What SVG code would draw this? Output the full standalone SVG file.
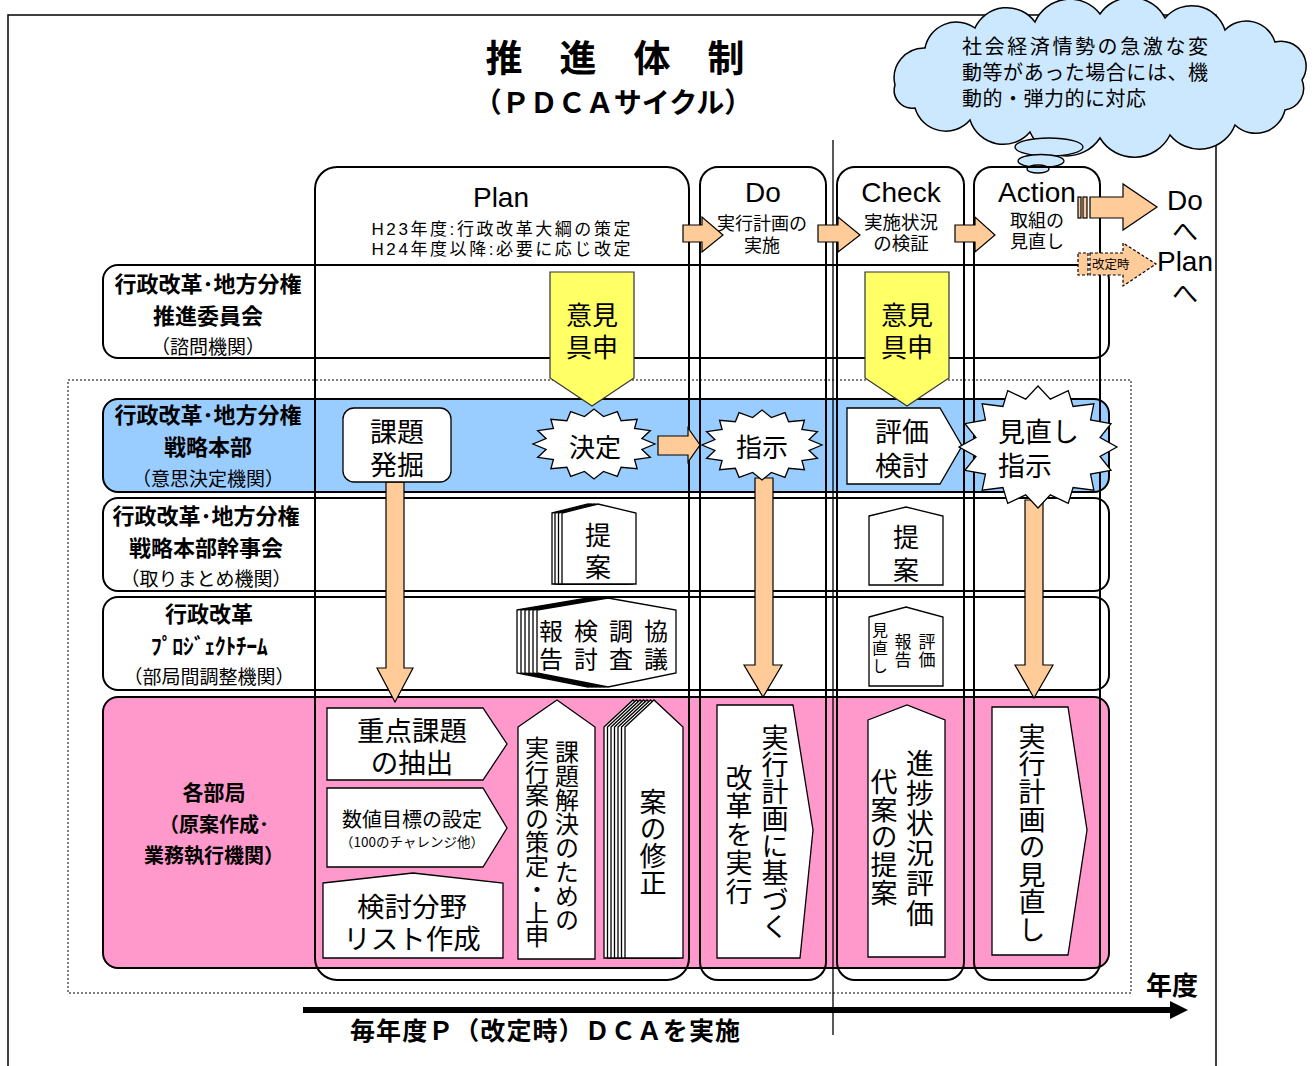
<svg xmlns="http://www.w3.org/2000/svg" xmlns:xlink="http://www.w3.org/1999/xlink" width="1314" height="1066" viewBox="0 0 1314 1066">
<style>
.frame{fill:none;stroke:#000;stroke-width:1.5}
.row{stroke:#000;stroke-width:2}
.col{fill:none;stroke:#000;stroke-width:2}
.ws{fill:#fff;stroke:#000;stroke-width:1.3}
.or{fill:#FFCC99;stroke:#000;stroke-width:1.2}
.ye{fill:#FFFF66;stroke:#333;stroke-width:1.2}
.jp{font-family:'Noto Sans CJK JP',sans-serif;fill:#000}
.lat{font-family:'Liberation Sans','Noto Sans CJK JP',sans-serif;fill:#000}
.b{font-weight:bold}
.c{text-anchor:middle}
.vt{writing-mode:vertical-rl}
</style>
<defs>
<polygon id="seal" vector-effect="non-scaling-stroke" fill="#fff" stroke="#000" stroke-width="1.3" points="100,0 78.5,15.6 92.4,38.3 66.5,44.4 70.7,70.7 44.4,66.5 38.3,92.4 15.6,78.5 0,100 -15.6,78.5 -38.3,92.4 -44.4,66.5 -70.7,70.7 -66.5,44.4 -92.4,38.3 -78.5,15.6 -100,0 -78.5,-15.6 -92.4,-38.3 -66.5,-44.4 -70.7,-70.7 -44.4,-66.5 -38.3,-92.4 -15.6,-78.5 0,-100 15.6,-78.5 38.3,-92.4 44.4,-66.5 70.7,-70.7 66.5,-44.4 92.4,-38.3 78.5,-15.6"/>
</defs>

<g id="background">
<rect class="frame" x="8" y="15" width="1208" height="1100"/>
<rect x="68" y="380" width="1063" height="613" fill="none" stroke="#000" stroke-width="1" stroke-dasharray="2,2"/>
</g>

<g id="title">
<text class="jp b c" x="615" y="72" font-size="37">推　進　体　制</text>
<text class="jp b c" x="613" y="113" font-size="28">（ＰＤＣＡサイクル）</text>
</g>

<g id="cloud">
<path d="M895,85 A30,30 0 0 1 925,48 A32,32 0 0 1 975,28 A35,35 0 0 1 1035,22 A38,38 0 0 1 1100,14 A38,38 0 0 1 1165,18 A35,35 0 0 1 1225,30 A30,30 0 0 1 1275,42 A25,25 0 0 1 1302,80 A22,22 0 0 1 1285,110 A30,30 0 0 1 1235,125 A38,38 0 0 1 1170,135 A40,40 0 0 1 1100,138 A40,40 0 0 1 1030,132 A35,35 0 0 1 970,120 A32,32 0 0 1 915,108 A18,18 0 0 1 895,85 Z" fill="#CCE8FF" stroke="#000" stroke-width="1.5"/>
<ellipse cx="1049" cy="147" rx="34" ry="9" fill="#CCE8FF" stroke="#000" stroke-width="1.3"/>
<ellipse cx="1041" cy="161" rx="23" ry="6.5" fill="#CCE8FF" stroke="#000" stroke-width="1.3"/>
<ellipse cx="1038" cy="169" rx="11" ry="4" fill="#CCE8FF" stroke="#000" stroke-width="1.3"/>
<text class="jp" x="962" y="54" font-size="20" textLength="246">社会経済情勢の急激な変</text>
<text class="jp" x="962" y="80" font-size="20" textLength="246">動等があった場合には、機</text>
<text class="jp" x="962" y="106" font-size="20" letter-spacing="0.5">動的・弾力的に対応</text>
</g>

<g id="rows">
<rect class="row" x="103" y="265" width="1006" height="93" rx="15" fill="#fff"/>
<rect class="row" x="103" y="399" width="1006" height="93" rx="15" fill="#99CCFF"/>
<rect class="row" x="103" y="498" width="1006" height="93" rx="15" fill="#fff"/>
<rect class="row" x="103" y="597" width="1006" height="93" rx="15" fill="#fff"/>
<rect class="row" x="103" y="697" width="1006" height="271" rx="15" fill="#FF99CC"/>
</g>

<g id="row-labels">
<text class="jp b c" x="208" y="292" font-size="22">行政改革･地方分権</text>
<text class="jp b c" x="208" y="324" font-size="22">推進委員会</text>
<text class="jp c" x="208" y="354" font-size="19">（諮問機関）</text>
<text class="jp b c" x="208" y="423" font-size="22">行政改革･地方分権</text>
<text class="jp b c" x="208" y="455" font-size="22">戦略本部</text>
<text class="jp c" x="208" y="486" font-size="19">（意思決定機関）</text>
<text class="jp b c" x="206" y="524" font-size="22">行政改革･地方分権</text>
<text class="jp b c" x="206" y="556" font-size="22">戦略本部幹事会</text>
<text class="jp c" x="206" y="586" font-size="19">（取りまとめ機関）</text>
<text class="jp b c" x="209" y="622" font-size="22">行政改革</text>
<text class="jp b c" x="209" y="654" font-size="22" letter-spacing="-0.5">ﾌﾟﾛｼﾞｪｸﾄﾁｰﾑ</text>
<text class="jp c" x="209" y="684" font-size="19">（部局間調整機関）</text>
<text class="jp b c" x="214" y="800" font-size="21">各部局</text>
<text class="jp b c" x="214" y="832" font-size="20">（原案作成･</text>
<text class="jp b c" x="214" y="863" font-size="20">業務執行機関）</text>
</g>

<g id="columns">
<rect class="col" x="315" y="167" width="374" height="813" rx="22"/>
<rect class="col" x="700" y="167" width="126" height="813" rx="18"/>
<rect class="col" x="837" y="167" width="127" height="813" rx="18"/>
<rect class="col" x="974" y="167" width="126" height="813" rx="18"/>
<line x1="833" y1="140" x2="833" y2="1035" stroke="#000" stroke-width="1.3"/>
</g>

<g id="headers">
<text class="lat c" x="501" y="207" font-size="28">Plan</text>
<text class="lat c" x="501" y="235" font-size="17" textLength="259">H23年度:行政改革大綱の策定</text>
<text class="lat c" x="501" y="255" font-size="17" textLength="259">H24年度以降:必要に応じ改定</text>
<text class="lat c" x="763" y="202" font-size="28">Do</text>
<text class="jp c" x="762" y="230" font-size="18">実行計画の</text>
<text class="jp c" x="762" y="252" font-size="18">実施</text>
<text class="lat c" x="901" y="202" font-size="28">Check</text>
<text class="jp c" x="901" y="229" font-size="18.5">実施状況</text>
<text class="jp c" x="901" y="250" font-size="18.5">の検証</text>
<text class="lat c" x="1037" y="202" font-size="28">Action</text>
<text class="jp c" x="1037" y="227" font-size="18">取組の</text>
<text class="jp c" x="1037" y="248" font-size="18">見直し</text>
</g>

<g id="connectors">
<polygon class="or" points="683,225 702,225 702,217 723,235 702,252 702,242 683,242"/>
<polygon class="or" points="818,225 838,225 838,217 860,235 838,252 838,242 818,242"/>
<polygon class="or" points="955,225 975,225 975,217 995,235 975,252 975,242 955,242"/>
<rect class="or" x="1078" y="197" width="3" height="21"/>
<rect class="or" x="1083" y="197" width="4" height="21"/>
<polygon class="or" points="1090,197 1123,197 1123,184 1157,207 1123,230 1123,218 1090,218"/>
<rect class="or" x="1078" y="253" width="10" height="22" stroke-dasharray="3,2"/>
<polygon class="or" points="1090,253 1123,253 1123,243 1156,264 1123,286 1123,275 1090,275" stroke-dasharray="3,2"/>
<polygon class="or" points="658,436 688,436 688,428 700,445 688,462 688,455 658,455"/>
<polygon class="or" points="386,482 404,482 404,668 413,668 395,702 377,668 386,668"/>
<polygon class="or" points="755,478 773,478 773,665 782,665 763,697 744,665 755,665"/>
<polygon class="or" points="1025,500 1043,500 1043,665 1053,665 1034,698 1015,665 1025,665"/>
<polygon class="ye" points="550,272 634,272 634,378 592,406 550,378"/>
<polygon class="ye" points="865,272 949,272 949,378 907,406 865,378"/>
</g>

<g id="side-labels">
<text class="jp" x="1092" y="269" font-size="12.5">改定時</text>
<text class="lat c" x="1185" y="210" font-size="28">Do</text>
<text class="jp c" x="1185" y="241" font-size="26">へ</text>
<text class="lat c" x="1185" y="271" font-size="28">Plan</text>
<text class="jp c" x="1185" y="303" font-size="26">へ</text>
</g>

<g id="n-ikengushin1"><text class="jp c" x="592" y="325" font-size="26">意見</text><text class="jp c" x="592" y="357" font-size="26">具申</text></g>
<g id="n-ikengushin2"><text class="jp c" x="907" y="325" font-size="26">意見</text><text class="jp c" x="907" y="357" font-size="26">具申</text></g>

<g id="n-kadaihakkutsu">
<rect class="ws" x="343" y="408" width="108" height="74" rx="11"/>
<text class="jp c" x="397" y="442" font-size="27">課題</text>
<text class="jp c" x="397" y="475" font-size="27">発掘</text>
</g>

<g id="n-kettei">
<use xlink:href="#seal" href="#seal" transform="translate(594,444) scale(0.61,0.35)"/>
<text class="jp c" x="595" y="457" font-size="26">決定</text>
</g>

<g id="n-shiji">
<use xlink:href="#seal" href="#seal" transform="translate(762,445) scale(0.60,0.35)"/>
<text class="jp c" x="762" y="457" font-size="26">指示</text>
</g>

<g id="n-hyoka">
<polygon class="ws" points="847,408 940,408 962,446 940,484 847,484"/>
<text class="jp c" x="902" y="442" font-size="27">評価</text>
<text class="jp c" x="902" y="476" font-size="27">検討</text>
</g>

<g id="n-minaoshi-shiji">
<use xlink:href="#seal" href="#seal" transform="translate(1038,447) scale(0.79,0.61)"/>
<text class="jp" x="998" y="442" font-size="27">見直し</text>
<text class="jp" x="998" y="476" font-size="27">指示</text>
</g>

<g id="n-teian1">
<polygon class="ws" points="552,513 588,504 626,513 626,584 552,584"/>
<polygon class="ws" points="555,513 591,504 629,513 629,584 555,584"/>
<polygon class="ws" points="558.5,513 594.5,504 632.5,513 632.5,584 558.5,584"/>
<polygon class="ws" points="562,513 598,504 636,513 636,584 562,584"/>
<text class="jp c" x="598" y="545" font-size="26">提</text>
<text class="jp c" x="598" y="577" font-size="26">案</text>
</g>

<g id="n-teian2">
<polygon class="ws" points="869,516 906,507 943,516 943,585 869,585"/>
<text class="jp c" x="906" y="547" font-size="26">提</text>
<text class="jp c" x="906" y="580" font-size="26">案</text>
</g>

<g id="n-houkoku">
<polygon class="ws" points="517,610 588,598 656,610 656,673 588,687 517,673"/>
<polygon class="ws" points="521,610 592,598 660,610 660,673 592,687 521,673"/>
<polygon class="ws" points="525,610 596,598 664,610 664,673 596,687 525,673"/>
<polygon class="ws" points="529,610 600,598 668,610 668,673 600,687 529,673"/>
<polygon class="ws" points="533,610 604,598 672,610 672,673 604,687 533,673"/>
<polygon class="ws" points="537,610 608,598 676,610 676,673 608,687 537,673"/>
<text class="jp vt" x="551" y="619" font-size="24" letter-spacing="4">報告</text>
<text class="jp vt" x="586" y="619" font-size="24" letter-spacing="4">検討</text>
<text class="jp vt" x="621" y="619" font-size="24" letter-spacing="4">調査</text>
<text class="jp vt" x="656" y="619" font-size="24" letter-spacing="4">協議</text>
</g>

<g id="n-hyoka-houkoku">
<polygon class="ws" points="869,617 906,607 943,617 943,686 869,686"/>
<text class="jp vt" x="880" y="622" font-size="16" letter-spacing="2">見直し</text>
<text class="jp vt" x="903" y="633" font-size="17" letter-spacing="1">報告</text>
<text class="jp vt" x="927" y="633" font-size="17" letter-spacing="1">評価</text>
</g>

<g id="n-juten">
<polygon class="ws" points="327,708 483,708 507,744 483,780 327,780"/>
<text class="jp c" x="412" y="741" font-size="27.5">重点課題</text>
<text class="jp c" x="412" y="773" font-size="27.5">の抽出</text>
</g>

<g id="n-suchi">
<polygon class="ws" points="327,788 483,788 507,828 483,867 327,867"/>
<text class="jp c" x="412" y="827" font-size="20">数値目標の設定</text>
<text class="jp c" x="412" y="847" font-size="13.5">（100のチャレンジ他）</text>
</g>

<g id="n-kento">
<polygon class="ws" points="323,883 413,873 503,883 503,958 323,958"/>
<text class="jp c" x="412" y="917" font-size="27.5">検討分野</text>
<text class="jp c" x="412" y="949" font-size="27.5">リスト作成</text>
</g>

<g id="n-kadaikaiketsu">
<polygon class="ws" points="518,727 557,700 595,727 595,959 518,959"/>
<text class="jp vt" x="567" y="740" font-size="24">課題解決のための</text>
<text class="jp vt" x="537" y="736" font-size="24" letter-spacing="-0.5">実行案の策定・上申</text>
</g>

<g id="n-annoshusei">
<polygon class="ws" points="604,727 633,700 662,727 662,958 604,958"/>
<polygon class="ws" points="607.5,727 636.5,700 665.5,727 665.5,958 607.5,958"/>
<polygon class="ws" points="611,727 640,700 669,727 669,958 611,958"/>
<polygon class="ws" points="614.5,727 643.5,700 672.5,727 672.5,958 614.5,958"/>
<polygon class="ws" points="618,727 647,700 676,727 676,958 618,958"/>
<polygon class="ws" points="621.5,727 650.5,700 679.5,727 679.5,958 621.5,958"/>
<polygon class="ws" points="625,727 654,700 683,727 683,958 625,958"/>
<text class="jp vt" x="653" y="788" font-size="27">案の修正</text>
</g>

<g id="n-do-jikko">
<polygon class="ws" points="717,705 793,705 813,830 800,958 717,958"/>
<text class="jp vt" x="775" y="724" font-size="27">実行計画に基づく</text>
<text class="jp vt" x="739" y="764" font-size="27" letter-spacing="1.5">改革を実行</text>
</g>

<g id="n-check-shinchoku">
<polygon class="ws" points="868,720 907,705 945,720 945,957 868,957"/>
<text class="jp vt" x="920" y="749" font-size="28" letter-spacing="2">進捗状況評価</text>
<text class="jp vt" x="884" y="768" font-size="27" letter-spacing="0.8">代案の提案</text>
</g>

<g id="n-action-minaoshi">
<polygon class="ws" points="992,707 1068,707 1087,830 1068,955 992,955"/>
<text class="jp vt" x="1032" y="723" font-size="27" letter-spacing="0.6">実行計画の見直し</text>
</g>

<g id="timeline">
<text class="jp b c" x="1172" y="995" font-size="26">年度</text>
<line x1="303" y1="1010" x2="1174" y2="1010" stroke="#000" stroke-width="6"/>
<polygon points="1170,1001 1188,1010 1170,1019" fill="#000"/>
<text class="jp b" x="350" y="1040" font-size="25" textLength="390">毎年度Ｐ（改定時）ＤＣＡを実施</text>
</g>
</svg>
